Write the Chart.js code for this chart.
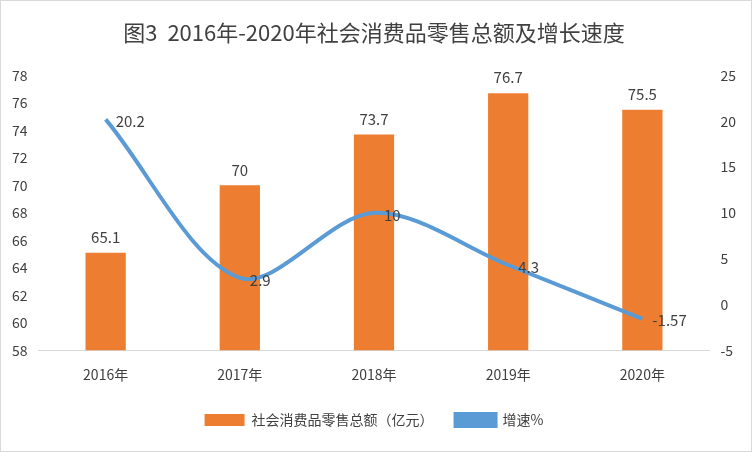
<!DOCTYPE html>
<html><head><meta charset="utf-8">
<script src="https://cdn.jsdelivr.net/npm/chart.js@4/dist/chart.umd.min.js"></script>
<style>html,body{margin:0;padding:0;background:#fff}#w{width:750px;height:450px;border:1px solid #d9d9d9;position:relative}</style>
</head><body><div id="w"><canvas id="c"></canvas></div>
<script>
const categories = ["2016年","2017年","2018年","2019年","2020年"];
const totalSales = [65.1, 70, 73.7, 76.7, 75.5];
const growthRate = [20.2, 2.9, 10, 4.3, -1.57];
const leftTicks = [58, 78, 2];
const rightTicks = [-5, 25, 5];
const F = '"Noto Sans CJK SC", "Liberation Sans", sans-serif';
const labels = {
  id: 'labels',
  afterDatasetsDraw(chart) {
    const ctx = chart.ctx;
    ctx.save();
    ctx.font = '15px ' + F;
    ctx.fillStyle = '#404040';
    chart.getDatasetMeta(0).data.forEach((b, i) => {
      ctx.textAlign = 'center'; ctx.textBaseline = 'bottom';
      ctx.fillText(String(totalSales[i]), b.x, b.y - 8);
    });
    chart.getDatasetMeta(1).data.forEach((p, i) => {
      ctx.textAlign = 'left'; ctx.textBaseline = 'middle';
      ctx.fillText(String(growthRate[i]), p.x + 10, p.y + 2);
    });
    ctx.restore();
  }
};
new Chart(document.getElementById('c'), {
  data: {
    labels: categories,
    datasets: [
      { type: 'bar', label: '社会消费品零售总额（亿元）', data: totalSales, backgroundColor: '#ED7D31', yAxisID: 'y', barPercentage: 0.3, categoryPercentage: 1, order: 2 },
      { type: 'line', label: '增速%', data: growthRate, borderColor: '#5B9BD5', backgroundColor: '#5B9BD5', borderWidth: 4, pointRadius: 0, tension: 0.32, yAxisID: 'y1', order: 1 }
    ]
  },
  options: {
    responsive: true, maintainAspectRatio: false, animation: false,
    layout: { padding: { left: 8, right: 12, top: 4, bottom: 14 } },
    plugins: {
      title: { display: true, text: '图3  2016年-2020年社会消费品零售总额及增长速度', color: '#404040', font: { family: F, size: 22, weight: 'normal' }, padding: { top: 14, bottom: 30 } },
      legend: { position: 'bottom', reverse: false, labels: { sort: (a, b) => a.datasetIndex - b.datasetIndex, color: '#404040', font: { family: F, size: 14 }, boxWidth: 40, boxHeight: 12, padding: 22 } },
      tooltip: { enabled: false }
    },
    scales: {
      x: { grid: { display: false }, border: { color: '#d9d9d9' }, ticks: { color: '#404040', padding: 8, font: { family: F, size: 14 } } },
      y: { position: 'left', min: leftTicks[0], max: leftTicks[1], ticks: { stepSize: leftTicks[2], color: '#404040', font: { family: F, size: 14 } }, grid: { display: false }, border: { display: false } },
      y1: { position: 'right', min: rightTicks[0], max: rightTicks[1], ticks: { stepSize: rightTicks[2], color: '#404040', font: { family: F, size: 14 } }, grid: { display: false }, border: { display: false } }
    }
  },
  plugins: [labels]
});
</script></body></html>
